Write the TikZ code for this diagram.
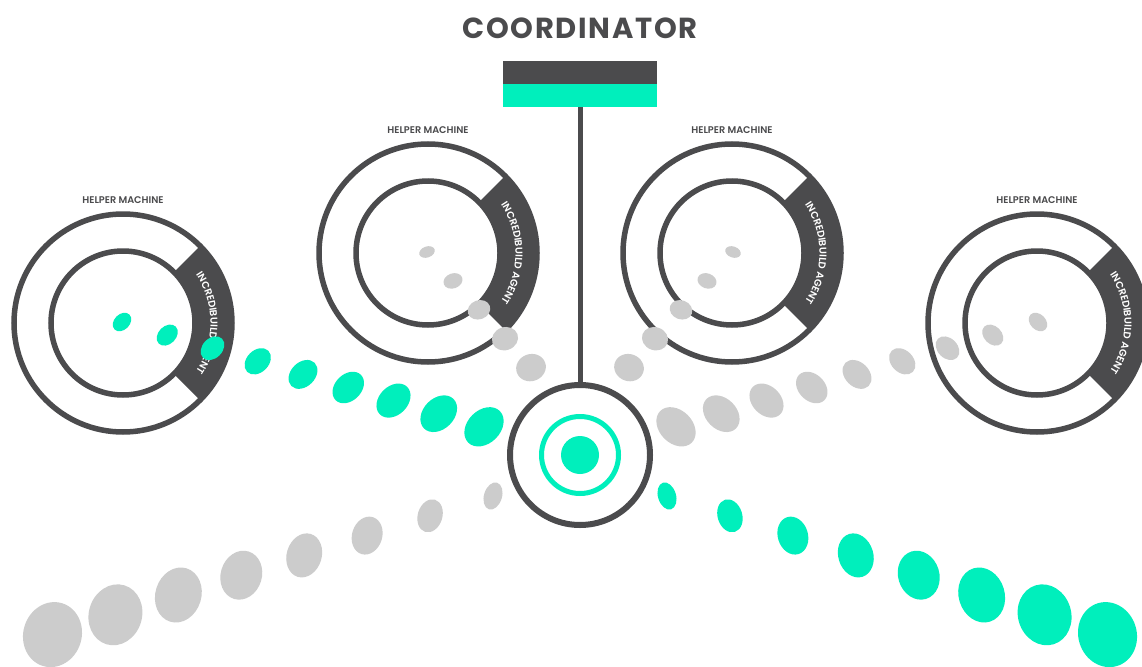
\documentclass[tikz,border=0pt]{standalone}
\usepackage{fontspec}
\setmainfont{Poppins}[BoldFont={Poppins SemiBold}]
\newfontfamily\titlefont{Poppins Bold}[LetterSpace=6]
\usetikzlibrary{decorations.text}
\definecolor{ibdark}{HTML}{4B4B4D}
\definecolor{ibgreen}{HTML}{00EFBC}
\definecolor{ibgrey}{HTML}{CCCCCC}
\newcommand\agentfont{\bfseries\fontsize{10}{11}\selectfont}
\newcommand\helpermachine[3]{%
  \begin{scope}[shift={(#2,#3)}]
    \coordinate (#1) at (0,0);
    \fill[ibdark] (45:111) arc[start angle=45,end angle=-45,radius=111]
      -- (-45:70) arc[start angle=-45,end angle=45,radius=70] -- cycle;
    \draw[ring] (0,0) circle[radius=109];
    \draw[ring] (0,0) circle[radius=72];
    \path[decorate,decoration={text along path,text align=center,text color=white,
      text={|\agentfont|INCREDIBUILD AGENT}}]
      (40:87.5) arc[start angle=40,end angle=-40,radius=87.5];
    \node[hlabel] (#1-label) at (0,123) {HELPER MACHINE};
  \end{scope}}
\newcommand\ibdot[6]{\fill[#1,rotate around={#6:(#2,#3)}] (#2,#3) ellipse[x radius=#4,y radius=#5];}
\begin{document}
\begin{tikzpicture}[x=1pt,y=1pt,
  ring/.style={draw=ibdark,line width=5.5pt},
  hlabel/.style={text=ibdark,font=\bfseries\fontsize{9.7}{10}\selectfont,inner sep=0pt}]
\useasboundingbox (0,0) rectangle (1142,-666);
\fill[white] (0,0) rectangle (1142,-666);

% title and coordinator box
\node[text=ibdark,font=\titlefont\fontsize{29}{31}\selectfont,inner sep=0pt] (title) at (580,-28) {COORDINATOR};
\node[fill=ibdark,minimum width=154pt,minimum height=23pt,inner sep=0pt,outer sep=0pt] (cotop) at (580,-72.5) {};
\node[fill=ibgreen,minimum width=154pt,minimum height=23pt,inner sep=0pt,outer sep=0pt] (cobot) at (580,-95.5) {};

% helper machines
\helpermachine{h1}{123}{-323}
\helpermachine{h2}{428}{-253}
\helpermachine{h3}{732}{-253}
\helpermachine{h4}{1037}{-323}

% hub
\node[circle,draw=ibdark,line width=6pt,minimum size=140pt,inner sep=0pt] (hub) at (580,-455) {};
\draw[ibgreen,line width=5pt] (hub.center) circle[radius=38.5];
\fill[ibgreen] (hub.center) circle[radius=19];
\draw[ibdark,line width=5pt] (cobot.south) -- (hub.north);

% upper outer chains
\foreach \i in {0,...,8}{
  \pgfmathsetmacro\cx{122+45.25*\i}
  \pgfmathsetmacro\cy{-(322+13.1*\i)}
  \pgfmathsetmacro\mx{1160-\cx}
  \pgfmathsetmacro\h{(18.5+2.6*\i)/2}
  \pgfmathsetmacro\ra{1.136*\h}
  \pgfmathsetmacro\rb{0.842*\h}
  \ibdot{ibgreen}{\cx}{\cy}{\ra}{\rb}{45}
  \ibdot{ibgrey}{\mx}{\cy}{\ra}{\rb}{-45}
}
% upper inner chains
\foreach \i in {0,...,4}{
  \pgfmathsetmacro\cx{427+26*\i}
  \pgfmathsetmacro\cy{-(252+28.9*\i)}
  \pgfmathsetmacro\mx{1160-\cx}
  \pgfmathsetmacro\ra{8+1.75*\i}
  \pgfmathsetmacro\rb{5.5+2*\i}
  \ibdot{ibgrey}{\cx}{\cy}{\ra}{\rb}{20}
  \ibdot{ibgrey}{\mx}{\cy}{\ra}{\rb}{-20}
}
% lower chains
\foreach \i/\ra/\rb in {0/9/13.9,1/12.3/16.8,2/15.1/19.3,3/17.5/22.4,4/20.6/24.8,5/23/27.9,6/26.6/30.8,7/29.2/32.8}{
  \pgfmathsetmacro\cx{667+62.93*\i}
  \pgfmathsetmacro\cy{-(496+19.8*\i)}
  \pgfmathsetmacro\mx{1160-\cx}
  \ibdot{ibgreen}{\cx}{\cy}{\ra}{\rb}{17}
  \ibdot{ibgrey}{\mx}{\cy}{\ra}{\rb}{-17}
}
\end{tikzpicture}
\end{document}
